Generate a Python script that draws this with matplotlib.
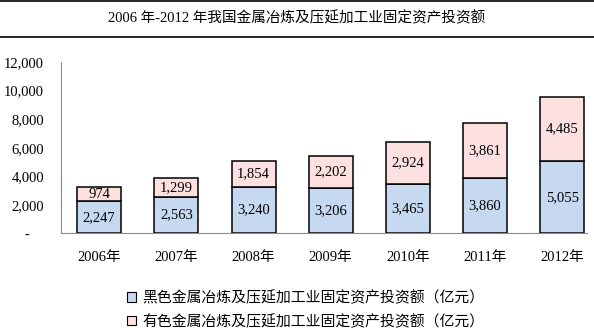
import matplotlib.pyplot as plt
from matplotlib.lines import Line2D
from matplotlib.patches import Patch
from matplotlib.ticker import FuncFormatter

# 数据
YEARS = ["2006年", "2007年", "2008年", "2009年", "2010年", "2011年", "2012年"]
FERROUS = [2247, 2563, 3240, 3206, 3465, 3860, 5055]
NONFERROUS = [974, 1299, 1854, 2202, 2924, 3861, 4485]
SERIES_NAMES = ["黑色金属冶炼及压延加工业固定资产投资额（亿元）",
                "有色金属冶炼及压延加工业固定资产投资额（亿元）"]
TITLE = "2006 年-2012 年我国金属冶炼及压延加工业固定资产投资额"

BLUE = "#C6D9F1"
PINK = "#FDE1E1"
FONT_MIX = ["Liberation Serif", "Noto Sans CJK SC"]

fig = plt.figure(figsize=(5.94, 3.36), dpi=100)
ax = fig.add_axes([0.102, 0.3057, 0.886, 0.5095])

x = range(len(YEARS))
width = 0.57
b1 = ax.bar(x, FERROUS, width, color=BLUE, edgecolor="black", linewidth=1.1)
b2 = ax.bar(x, NONFERROUS, width, bottom=FERROUS, color=PINK,
            edgecolor="black", linewidth=1.1)

# 段内数值
for i in x:
    ax.text(i, FERROUS[i] / 2, f"{FERROUS[i]:,}", ha="center", va="center",
            fontsize=10.5, family="Liberation Serif")
    ax.text(i, FERROUS[i] + NONFERROUS[i] / 2, f"{NONFERROUS[i]:,}",
            ha="center", va="center", fontsize=10.5, family="Liberation Serif")

ax.set_ylim(0, 12000)
ax.set_xlim(-0.5, 6.32)
ax.set_yticks(range(0, 12001, 2000))
ax.yaxis.set_major_formatter(FuncFormatter(lambda v, p: f"{int(v):,}" if v else "-    "))
ax.set_xticks(list(x))
ax.set_xticklabels(YEARS)
ax.tick_params(axis="both", length=0)
ax.tick_params(axis="y", pad=12)
ax.tick_params(axis="x", pad=13)
for lab in ax.get_yticklabels():
    lab.set_family("Liberation Serif")
    lab.set_fontsize(10.5)
for lab in ax.get_xticklabels():
    lab.set_family(FONT_MIX)
    lab.set_fontsize(10.5)

for s in ["top", "right"]:
    ax.spines[s].set_visible(False)
ax.spines["left"].set_color("#8c8c8c")
ax.spines["bottom"].set_color("#8c8c8c")

# 标题及上下横线
fig.text(0.5, 0.946, TITLE, ha="center", va="center", fontsize=10.5,
         family=FONT_MIX)
for yy in [0.997, 0.889]:
    fig.add_artist(Line2D([0, 1], [yy, yy], color="black", linewidth=1.2,
                          transform=fig.transFigure))

handles = [Patch(facecolor=BLUE, edgecolor="black", linewidth=0.8),
           Patch(facecolor=PINK, edgecolor="black", linewidth=0.8)]
fig.legend(handles, SERIES_NAMES, loc="center left",
           bbox_to_anchor=(0.192, 0.078), frameon=False,
           prop={"family": "Noto Sans CJK SC", "size": 10.7},
           handlelength=0.6, handleheight=0.6, handletextpad=0.4,
           labelspacing=0.62)

fig.savefig("out.png", dpi=100)
